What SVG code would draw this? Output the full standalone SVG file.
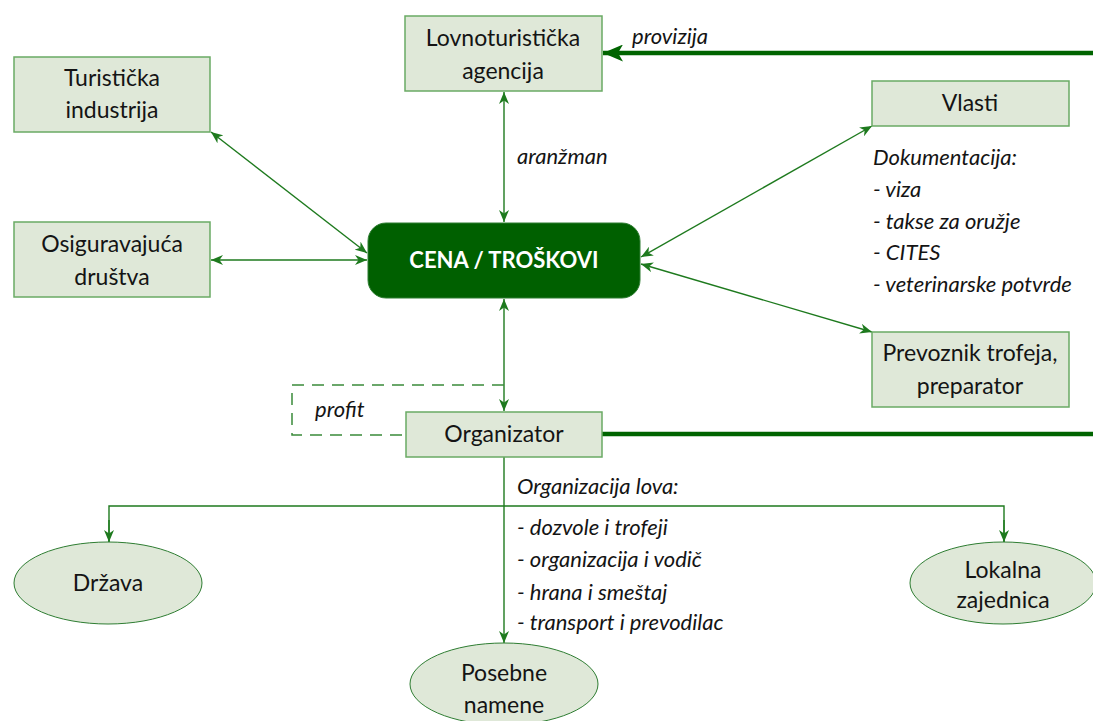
<svg xmlns="http://www.w3.org/2000/svg" width="1093" height="721" viewBox="0 0 1093 721">
<style>
.box{fill:#dfe8d8;stroke:#6aaa64;stroke-width:1.5}
.ell{fill:#dfe8d8;stroke:#2e7d32;stroke-width:1}
.t{font-family:Lato,"Open Sans",sans-serif;font-size:23px;fill:#141414;text-anchor:middle}
.i{font-family:Lato,"Open Sans",sans-serif;font-size:22px;font-style:italic;fill:#141414}
.c{stroke:#1e7a1e;stroke-width:1.4;fill:none}
.thick{stroke:#006400;stroke-width:4.5;fill:none}
.dash{stroke:#3a8a3a;stroke-width:1.5;fill:none;stroke-dasharray:12 8}
</style>
<defs>
<marker id="a" viewBox="0 0 12 10" refX="12" refY="5" markerWidth="12" markerHeight="10" markerUnits="userSpaceOnUse" orient="auto-start-reverse">
<path d="M0,0 L12,5 L0,10 L3.5,5 z" fill="#1e7a1e"/>
</marker>
<marker id="b" viewBox="0 0 20 17" refX="20" refY="8.5" markerWidth="20" markerHeight="17" markerUnits="userSpaceOnUse" orient="auto">
<path d="M0,0 L20,8.5 L0,17 L5,8.5 z" fill="#006400"/>
</marker>
</defs>
<g id="connectors">
<line class="c" x1="504" y1="92" x2="504" y2="222" marker-start="url(#a)" marker-end="url(#a)"/>
<line class="c" x1="211" y1="132" x2="367" y2="253" marker-start="url(#a)" marker-end="url(#a)"/>
<line class="c" x1="211" y1="260" x2="367" y2="260" marker-start="url(#a)" marker-end="url(#a)"/>
<line class="c" x1="641" y1="257" x2="872" y2="126" marker-start="url(#a)" marker-end="url(#a)"/>
<line class="c" x1="641" y1="264" x2="872" y2="332" marker-start="url(#a)" marker-end="url(#a)"/>
<line class="c" x1="504" y1="299" x2="504" y2="411" marker-start="url(#a)" marker-end="url(#a)"/>
<line class="thick" x1="1093" y1="53" x2="603" y2="53" marker-end="url(#b)"/>
<line class="thick" x1="602" y1="434" x2="1093" y2="434"/>
<path class="dash" d="M504,385 H292 V435 H406"/>
<line class="c" x1="504" y1="457" x2="504" y2="643" marker-end="url(#a)"/>
<path class="c" d="M109,542 V506 H1004 V542"/>
<line class="c" x1="109" y1="520" x2="109" y2="542" marker-end="url(#a)"/>
<line class="c" x1="1004" y1="520" x2="1004" y2="542" marker-end="url(#a)"/>
<text class="i" x="632" y="44">provizija</text>
<text class="i" x="517" y="164">aranžman</text>
<text class="i" x="315" y="417">profit</text>
<text class="i" x="873" y="165">Dokumentacija:</text>
<text class="i" x="873" y="197">- viza</text>
<text class="i" x="873" y="229">- takse za oružje</text>
<text class="i" x="873" y="260">- CITES</text>
<text class="i" x="873" y="292">- veterinarske potvrde</text>
<text class="i" x="517" y="494">Organizacija lova:</text>
<text class="i" x="517" y="535">- dozvole i trofeji</text>
<text class="i" x="517" y="567">- organizacija i vodič</text>
<text class="i" x="517" y="600">- hrana i smeštaj</text>
<text class="i" x="517" y="630">- transport i prevodilac</text>
</g>
<g id="turisticka">
<rect class="box" x="14" y="57" width="196" height="75"/>
<text class="t" x="112" y="86">Turistička</text>
<text class="t" x="112" y="118">industrija</text>
</g>
<g id="osiguravajuca">
<rect class="box" x="14" y="222" width="196" height="75"/>
<text class="t" x="112" y="252">Osiguravajuća</text>
<text class="t" x="112" y="285">društva</text>
</g>
<g id="lovnoturisticka">
<rect class="box" x="405" y="16" width="197" height="75"/>
<text class="t" x="503" y="46">Lovnoturistička</text>
<text class="t" x="503" y="79">agencija</text>
</g>
<g id="vlasti">
<rect class="box" x="872" y="81" width="197" height="45"/>
<text class="t" x="970" y="111">Vlasti</text>
</g>
<g id="cena">
<rect x="368" y="223" width="272" height="75" rx="18" fill="#006000" stroke="#2e7d32" stroke-width="1"/>
<text class="t" x="504" y="268" style="fill:#ffffff;font-weight:bold;font-size:22px">CENA / TROŠKOVI</text>
</g>
<g id="prevoznik">
<rect class="box" x="872" y="332" width="197" height="75"/>
<text class="t" x="970" y="361">Prevoznik trofeja,</text>
<text class="t" x="970" y="394">preparator</text>
</g>
<g id="organizator">
<rect class="box" x="406" y="412" width="196" height="45"/>
<text class="t" x="504" y="442">Organizator</text>
</g>
<g id="drzava">
<ellipse class="ell" cx="108" cy="583" rx="94" ry="41"/>
<text class="t" x="108" y="591">Država</text>
</g>
<g id="lokalna">
<ellipse class="ell" cx="1003" cy="583" rx="93" ry="41"/>
<text class="t" x="1003" y="578">Lokalna</text>
<text class="t" x="1003" y="608">zajednica</text>
</g>
<g id="posebne">
<ellipse class="ell" cx="504" cy="684" rx="94" ry="41"/>
<text class="t" x="504" y="681">Posebne</text>
<text class="t" x="504" y="713">namene</text>
</g>
</svg>
